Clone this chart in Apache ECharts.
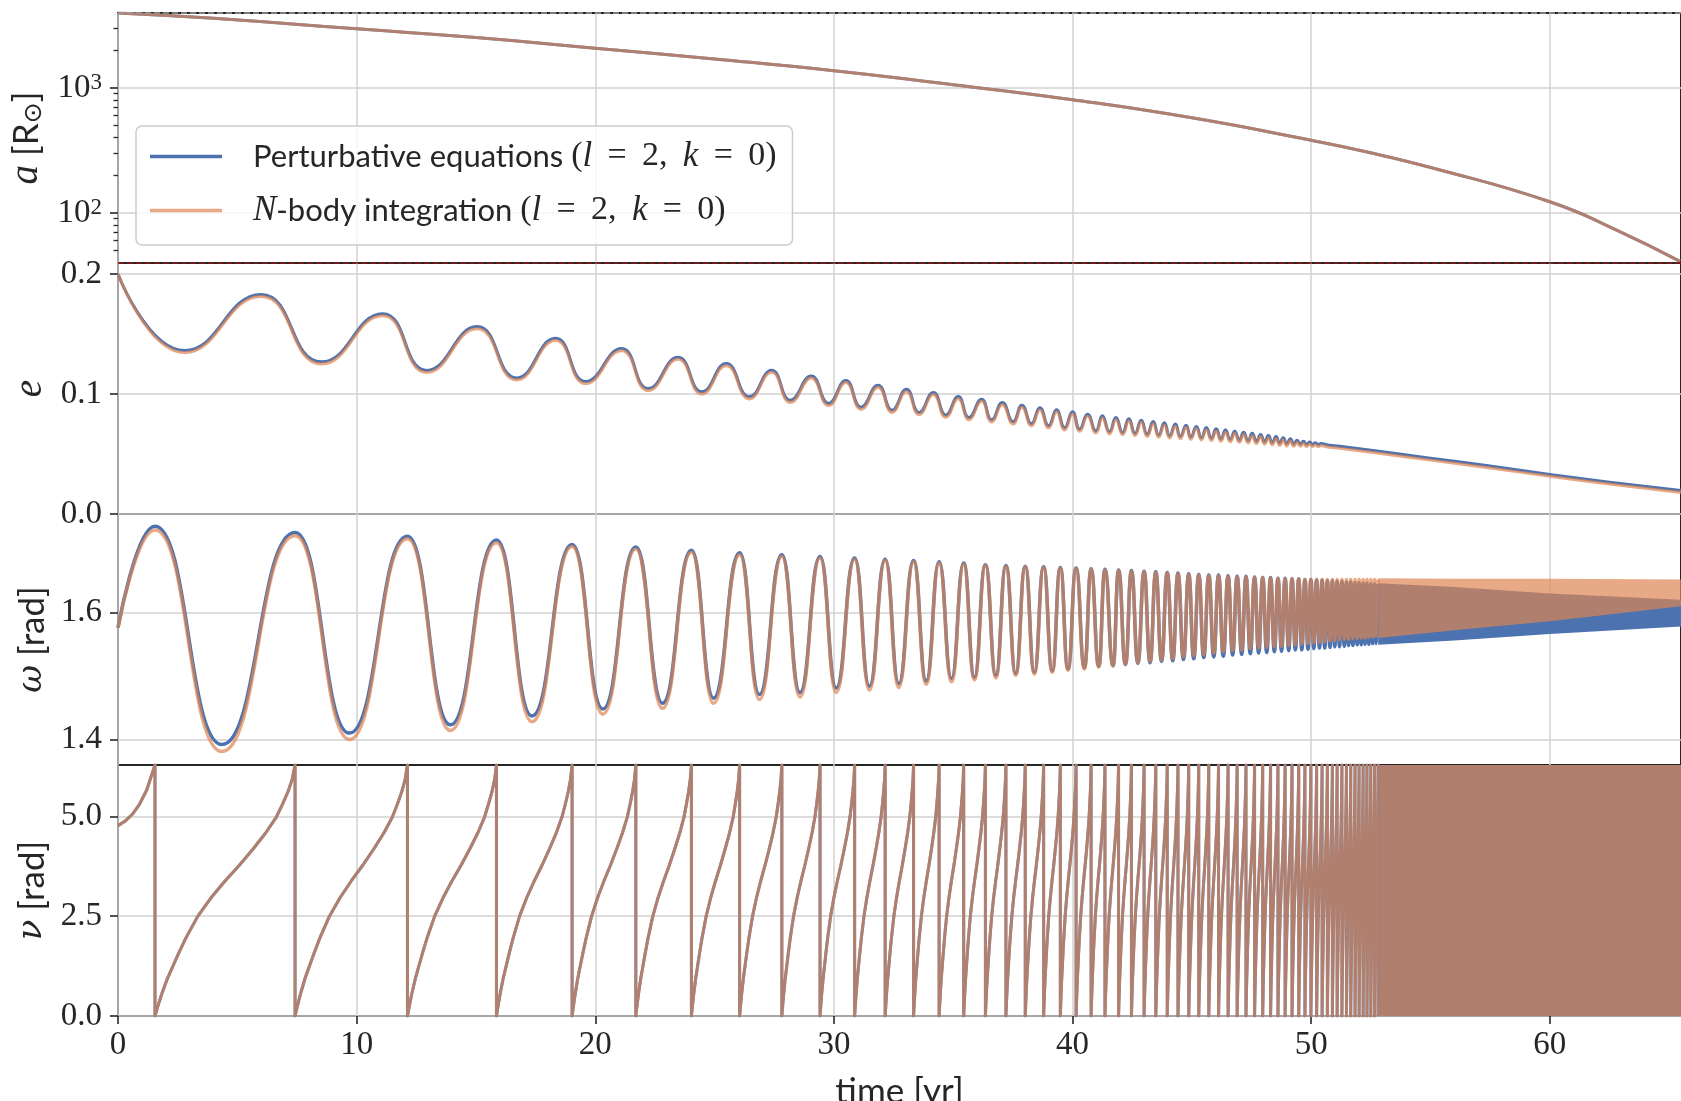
<!DOCTYPE html>
<html><head><meta charset="utf-8">
<script src="https://cdn.jsdelivr.net/npm/echarts@6/dist/echarts.min.js"></script>
<style>html,body{margin:0;padding:0;background:#fff}#c{width:1681px;height:1101px}</style>
</head><body><div id="c"></div>
<script>
// ---------------- DATA ----------------
const xTicks = [0, 10, 20, 30, 40, 50, 60];
// panel 1: semi-major axis a [Rsun] (log axis)
const aT   = [0, 4, 10, 15, 20, 25, 30, 35, 40, 45, 50, 52.3, 55.13, 60, 62.8, 65.46];
const aVal = [3990, 3614, 2972, 2535, 2080, 1706, 1374, 1062, 805, 577, 382, 309, 228, 123, 73, 41];
const aTicks = [100, 1000];
const aMinorTicks = [50, 60, 70, 80, 90, 200, 300, 400, 500, 600, 700, 800, 900, 2000, 3000];
// panel 2: eccentricity e (alternating extrema, then the smooth tail)
const eT = [0, 2.80, 6.00, 8.53, 11.09, 12.94, 15.05, 16.71, 18.33, 19.60, 21.10, 22.22, 23.47, 24.47, 25.49, 26.46, 27.39, 28.18, 29.05, 29.78, 30.50, 31.14, 31.85, 32.44, 33.04, 33.57, 34.17, 34.69, 35.21, 35.66, 36.19, 36.61, 37.06, 37.51, 37.88, 38.28, 38.63, 39.00, 39.33, 39.67, 40.00, 40.30, 40.63, 40.98, 41.25, 41.55, 41.82, 42.10, 42.36, 42.62, 42.88, 43.13, 43.38, 43.61, 43.85, 44.07, 44.31, 44.52, 44.76, 44.96, 45.19, 45.40, 45.61, 45.82, 46.02, 46.22, 46.41, 46.61, 46.80, 46.99, 47.17, 47.36, 47.53, 47.71, 47.88, 48.05, 48.21, 48.37, 48.53, 48.68, 48.83, 48.98, 49.13,
  49.27, 49.41, 49.55, 49.68, 49.81, 49.94, 50.06, 50.18, 50.30, 50.41, 50.7, 51.2, 53.0, 55.0, 57.5, 60.0, 62.5, 65.5];
const eBlue = [0.2000, 0.1362, 0.1830, 0.1268, 0.1670, 0.1197, 0.1562, 0.1134, 0.1464, 0.1104, 0.1379, 0.1046, 0.1307, 0.1018, 0.1254, 0.0977, 0.1199, 0.0948, 0.1151, 0.0921, 0.1113, 0.0890, 0.1074, 0.0865, 0.1040, 0.0846, 0.1013, 0.0824, 0.0979, 0.0804, 0.0957, 0.0785, 0.0929, 0.0768, 0.0907, 0.0752, 0.0885, 0.0735, 0.0868, 0.0718, 0.0852, 0.0707, 0.0832, 0.0693, 0.0818, 0.0685, 0.0804, 0.0678, 0.0793, 0.0671, 0.0782, 0.0664, 0.0771, 0.0657, 0.0760, 0.0651, 0.0750, 0.0645, 0.0740, 0.0640, 0.0730, 0.0635, 0.0720, 0.0630, 0.0710, 0.0625, 0.0700, 0.0620, 0.0690, 0.0615, 0.0681, 0.0610, 0.0672, 0.0605, 0.0663, 0.0600, 0.0654, 0.0595, 0.0645, 0.0590, 0.0636, 0.0585, 0.0627,
  0.0582, 0.0615, 0.0581, 0.0607, 0.0580, 0.0600, 0.0579, 0.0594, 0.0578, 0.0587, 0.0576, 0.0564, 0.0518, 0.0465, 0.0400, 0.0330, 0.0265, 0.0195];
const eOrange = [0.2000, 0.1345, 0.1812, 0.1250, 0.1652, 0.1179, 0.1544, 0.1116, 0.1446, 0.1086, 0.1361, 0.1028, 0.1289, 0.1000, 0.1236, 0.0959, 0.1181, 0.0930, 0.1133, 0.0903, 0.1095, 0.0872, 0.1056, 0.0847, 0.1022, 0.0828, 0.0995, 0.0806, 0.0961, 0.0786, 0.0939, 0.0767, 0.0911, 0.0750, 0.0889, 0.0734, 0.0867, 0.0717, 0.0850, 0.0700, 0.0834, 0.0689, 0.0814, 0.0675, 0.0800, 0.0667, 0.0786, 0.0660, 0.0775, 0.0653, 0.0764, 0.0646, 0.0753, 0.0639, 0.0742, 0.0633, 0.0732, 0.0627, 0.0722, 0.0622, 0.0712, 0.0617, 0.0702, 0.0612, 0.0692, 0.0607, 0.0682, 0.0602, 0.0672, 0.0597, 0.0663, 0.0592, 0.0654, 0.0587, 0.0645, 0.0582, 0.0636, 0.0577, 0.0627, 0.0572, 0.0618, 0.0567, 0.0609,
  0.0565, 0.0598, 0.0564, 0.0590, 0.0563, 0.0583, 0.0562, 0.0577, 0.0561, 0.0570, 0.0559, 0.0547, 0.0502, 0.0449, 0.0383, 0.0315, 0.0250, 0.0180];
const eTicks = [0, 0.1, 0.2];
// cycle times: omega maxima == nu wrap-arounds
const cycleT = [1.55, 7.42, 12.13, 15.86, 19.03, 21.70, 24.03, 26.05, 27.82, 29.42, 30.87, 32.15, 33.34, 34.41, 35.44, 36.35, 37.21, 38.02, 38.79, 39.49, 40.15, 40.78, 41.36, 41.93, 42.47, 43.00, 43.49, 43.97, 44.42, 44.87, 45.29, 45.71, 46.12, 46.52, 46.90, 47.27, 47.63, 47.97, 48.30, 48.61, 48.91, 49.20, 49.48, 49.74, 49.99, 50.23, 50.46, 50.68, 50.89, 51.09, 51.29, 51.48, 51.66, 51.84, 52.01, 52.18, 52.34, 52.50, 52.66, 52.81];
// panel 3: omega [rad]
const omegaStartT = 0, omegaStartVal = 1.576;
const omegaPeakBlue = [1.736, 1.726, 1.720, 1.714, 1.707, 1.703, 1.698, 1.694, 1.691, 1.688, 1.686, 1.684, 1.682, 1.680, 1.678, 1.675, 1.674, 1.673, 1.672, 1.671, 1.670, 1.669, 1.668, 1.667, 1.666, 1.665, 1.664, 1.663, 1.662, 1.661, 1.660, 1.659, 1.659, 1.658, 1.657, 1.657, 1.656, 1.655, 1.655, 1.654, 1.654, 1.653, 1.653, 1.652, 1.652, 1.651, 1.651, 1.650, 1.650, 1.649, 1.649, 1.648, 1.648, 1.647, 1.647, 1.646, 1.646, 1.645, 1.645, 1.645];
const omegaPeakOrange = [1.730, 1.721, 1.716, 1.710, 1.704, 1.700, 1.695, 1.691, 1.688, 1.686, 1.684, 1.682, 1.680, 1.678, 1.676, 1.674, 1.673, 1.672, 1.671, 1.670, 1.669, 1.668, 1.667, 1.666, 1.665, 1.664, 1.663, 1.662, 1.661, 1.660, 1.659, 1.658, 1.658, 1.657, 1.656, 1.656, 1.655, 1.655, 1.654, 1.654, 1.653, 1.653, 1.653, 1.652, 1.652, 1.652, 1.652, 1.652, 1.652, 1.652, 1.652, 1.652, 1.652, 1.652, 1.652, 1.652, 1.652, 1.652, 1.652, 1.652];
const omegaTroughT = [4.35, 9.70, 13.93, 17.35, 20.32, 22.82, 24.96, 26.88, 28.58, 30.10, 31.49, 32.72, 33.87, 34.93, 35.89, 36.79, 37.62, 38.40, 39.15, 39.81, 40.50, 41.10, 41.70, 42.22, 42.74, 43.25, 43.73, 44.20, 44.65, 45.08, 45.50, 45.92, 46.32, 46.71, 47.09, 47.45, 47.80, 48.14, 48.46, 48.76, 49.06, 49.34, 49.61, 49.87, 50.11, 50.35, 50.57, 50.79, 50.99, 51.19, 51.39, 51.57, 51.75, 51.93, 52.10, 52.26, 52.42, 52.58, 52.74];
const omegaTroughBlue = [1.392, 1.410, 1.423, 1.437, 1.448, 1.457, 1.465, 1.471, 1.474, 1.481, 1.484, 1.488, 1.492, 1.496, 1.498, 1.501, 1.504, 1.506, 1.508, 1.511, 1.513, 1.515, 1.516, 1.518, 1.520, 1.521, 1.523, 1.524, 1.526, 1.527, 1.529, 1.530, 1.531, 1.533, 1.534, 1.535, 1.536, 1.537, 1.538, 1.539, 1.540, 1.541, 1.541, 1.542, 1.543, 1.544, 1.544, 1.545, 1.546, 1.546, 1.547, 1.548, 1.548, 1.549, 1.549, 1.550, 1.550, 1.551, 1.551];
const omegaTroughOrange = [1.381, 1.400, 1.414, 1.428, 1.440, 1.449, 1.457, 1.463, 1.467, 1.474, 1.478, 1.482, 1.487, 1.491, 1.494, 1.497, 1.501, 1.503, 1.506, 1.509, 1.511, 1.514, 1.516, 1.518, 1.521, 1.523, 1.525, 1.527, 1.530, 1.532, 1.534, 1.536, 1.538, 1.540, 1.541, 1.543, 1.544, 1.545, 1.546, 1.547, 1.548, 1.549, 1.550, 1.551, 1.552, 1.553, 1.554, 1.555, 1.556, 1.557, 1.558, 1.558, 1.559, 1.559, 1.560, 1.560, 1.561, 1.561, 1.562];
// unresolved (solid) envelope of omega at late times
const omegaBandT = [52.81, 56, 60, 65.5];
const omegaBandBlueTop = [1.646, 1.640, 1.630, 1.620];
const omegaBandBlueBot = [1.549, 1.556, 1.566, 1.578];
const omegaBandOrangeTop = [1.654, 1.653, 1.653, 1.652];
const omegaBandOrangeBot = [1.560, 1.572, 1.586, 1.610];
const omegaTicks = [1.4, 1.6];
// panel 4: nu [rad]
const nuHeadT = [0, 0.3, 0.6, 0.9, 1.2, 1.55];
const nuHeadVal = [4.76, 4.88, 5.05, 5.30, 5.65, 6.2832];
const nuProfileFrac = [0, 0.02, 0.05, 0.09, 0.128, 0.17, 0.22, 0.306, 0.40, 0.50, 0.604, 0.70, 0.79, 0.866, 0.91, 0.95, 0.98, 1];
const nuProfileVal  = [0, 0.24, 0.57, 0.95, 1.25, 1.58, 1.95, 2.5, 2.96, 3.38, 3.78, 4.18, 4.58, 4.98, 5.30, 5.62, 5.93, 6.2832];
const nuBandT = [52.81, 65.5];
const nuBandTop = [6.2832, 6.2832];
const nuBandBot = [0, 0];
const nuTicks = [0, 2.5, 5.0];

// ---------------- CHART ----------------
const BLUE = '#4C72B0', ORANGE = '#DD8452', INK = '#262626', GRIDC = '#d2d2d2';
const SERIF = "'Liberation Serif', 'DejaVu Serif', serif";
const GREEK = "'DejaVu Serif', serif";
const SANS = "Lato, 'DejaVu Sans', sans-serif";
const FS = 33;
const NAME_B = 'pert', NAME_O = 'nbody';
const PANEL_TOP = [13, 263, 514, 765];
const PANEL_H = [250, 251, 251, 251];
const LEFT = 118, WIDTH = 1563, XMAX = 65.5;

const grids = PANEL_TOP.map((t, i) => ({
  left: LEFT, top: t, width: WIDTH, height: PANEL_H[i], containLabel: false, outerBoundsMode: 'none',
  show: true, borderColor: INK, borderWidth: 2, backgroundColor: 'transparent'
}));

const xAxes = PANEL_TOP.map((t, i) => ({
  type: 'value', gridIndex: i, min: 0, max: XMAX, interval: 10,
  axisLine: { show: false },
  axisTick: { show: i === 3, length: 8, lineStyle: { color: INK, width: 1.6 }, customValues: xTicks },
  axisLabel: { show: i === 3, customValues: xTicks, fontFamily: SERIF, fontSize: FS, color: INK, margin: 13,
    formatter: v => (Math.abs(v % 10) < 1e-9 ? String(v) : '') },
  splitLine: { show: true, lineStyle: { color: GRIDC, width: 1.5 } },
  name: i === 3 ? 'time [yr]' : '', nameLocation: 'middle', nameGap: 58,
  nameTextStyle: { fontFamily: SANS, fontSize: 35, color: INK }
}));

const nameRich = {
  i: { fontFamily: SERIF, fontStyle: 'italic', fontSize: 39, color: INK },
  g: { fontFamily: GREEK, fontStyle: 'italic', fontSize: 34, color: INK },
  n: { fontFamily: SANS, fontSize: 35, color: INK },
  o: { fontFamily: "'DejaVu Sans'", fontSize: 25, color: INK, verticalAlign: 'bottom' }
};
function yBase(grid, extra) {
  return Object.assign({
    gridIndex: grid, position: 'left',
    axisLine: { show: false },
    axisTick: { show: true, length: 8, lineStyle: { color: INK, width: 1.6 } },
    axisLabel: { fontFamily: SERIF, fontSize: FS, color: INK, margin: 16 },
    splitLine: { show: true, lineStyle: { color: GRIDC, width: 1.5 } },
    nameLocation: 'middle', nameRotate: 90, nameGap: 66,
    nameTextStyle: { fontFamily: SANS, fontSize: 35, color: INK, rich: nameRich }
  }, extra);
}
const tick = vals => ({ show: true, length: 8, lineStyle: { color: INK, width: 1.6 }, customValues: vals });
const yAxes = [
  yBase(0, { type: 'log', logBase: 10, min: 39.81, max: 3981, name: '{i|a} {n|[R}{o|⊙}{n|]}',
    axisTick: tick(aTicks),
    axisLabel: { fontFamily: SERIF, fontSize: FS, color: INK, margin: 16, customValues: aTicks,
      formatter: v => { const l = Math.log10(v); return Math.abs(l - Math.round(l)) < 1e-6 ? '{b|10}{s|' + Math.round(l) + '}' : ''; },
      rich: { b: { fontFamily: SERIF, fontSize: FS, color: INK }, s: { fontFamily: SERIF, fontSize: 23, color: INK, verticalAlign: 'top' } } } }),
  yBase(1, { type: 'value', min: 0, max: 0.2092, interval: 0.1, name: '{i|e}',
    axisTick: tick(eTicks),
    axisLabel: { fontFamily: SERIF, fontSize: FS, color: INK, margin: 16, customValues: eTicks, formatter: v => v.toFixed(1) } }),
  yBase(2, { type: 'value', min: 1.3598, max: 1.7551, minInterval: 0.2, maxInterval: 0.2, name: '{g|ω} {n|[rad]}',
    axisTick: tick(omegaTicks),
    axisLabel: { fontFamily: SERIF, fontSize: FS, color: INK, margin: 16, customValues: omegaTicks, formatter: v => v.toFixed(1) } }),
  yBase(3, { type: 'value', min: 0, max: 6.2832, interval: 2.5, name: '{g|ν} {n|[rad]}',
    axisTick: tick(nuTicks),
    axisLabel: { fontFamily: SERIF, fontSize: FS, color: INK, margin: 16, customValues: nuTicks, formatter: v => v.toFixed(1) } }),
  // minor ticks of the log axis
  yBase(0, { type: 'log', logBase: 10, min: 39.81, max: 3981, name: '',
    axisTick: { show: true, length: 4.5, lineStyle: { color: INK, width: 1.3 }, customValues: aMinorTicks },
    axisLabel: { show: false }, splitLine: { show: false } })
];

const zip = (T, V) => T.map((t, i) => [t, V[i]]);
function omegaPts(peaks, troughs) {
  const pts = [[omegaStartT, omegaStartVal]];
  for (let k = 0; k < cycleT.length; k++) {
    pts.push([cycleT[k], peaks[k]]);
    if (k < omegaTroughT.length) pts.push([omegaTroughT[k], troughs[k]]);
  }
  return pts;
}
function nuPts() {
  const pts = zip(nuHeadT, nuHeadVal);
  for (let k = 0; k < cycleT.length; k++) {
    const t0 = cycleT[k];
    pts.push([t0, 0]);
    if (k + 1 < cycleT.length) {
      const t1 = cycleT[k + 1];
      for (let j = 1; j < nuProfileFrac.length; j++) pts.push([t0 + (t1 - t0) * nuProfileFrac[j], nuProfileVal[j]]);
    }
  }
  return pts;
}
function line(name, grid, data, color, opacity, width, smooth, mono) {
  const s = { type: 'line', name, xAxisIndex: grid, yAxisIndex: grid, data, showSymbol: false, symbol: 'none',
    smooth: smooth, clip: true, silent: true,
    lineStyle: { color, width, opacity, join: 'round' }, itemStyle: { color, opacity } };
  if (mono) s.smoothMonotone = 'x';
  return s;
}
function band(name, grid, T, top, bot, color, opacity) {
  return { type: 'custom', name, xAxisIndex: grid, yAxisIndex: grid, clip: true, silent: true, data: [[T[0], top[0]]],
    renderItem: (p, api) => {
      const pts = [];
      for (let i = 0; i < T.length; i++) pts.push(api.coord([T[i], top[i]]));
      for (let i = T.length - 1; i >= 0; i--) pts.push(api.coord([T[i], bot[i]]));
      return { type: 'polygon', shape: { points: pts }, style: { fill: color, opacity } };
    } };
}

const aBlue = line(NAME_B, 0, zip(aT, aVal), BLUE, 1, 3, 0.5, false);
aBlue.markLine = { silent: true, symbol: 'none', label: { show: false },
  data: [ { yAxis: 3981, lineStyle: { type: 'dashed', color: '#9a9a9a', width: 1.5 } },
          { yAxis: 39.81, lineStyle: { type: 'dashed', color: '#8b1a1a', width: 1.5 } } ] };

const series = [
  aBlue,
  line(NAME_B, 1, zip(eT, eBlue), BLUE, 1, 3, 0.5, false),
  line(NAME_B, 2, omegaPts(omegaPeakBlue, omegaTroughBlue), BLUE, 1, 3.5, 0.5, true),
  band('bandB2', 2, omegaBandT, omegaBandBlueTop, omegaBandBlueBot, BLUE, 1),
  line(NAME_B, 3, nuPts(), BLUE, 1, 3, false, false),
  band('bandB3', 3, nuBandT, nuBandTop, nuBandBot, BLUE, 1),
  line(NAME_O, 0, zip(aT, aVal), ORANGE, 0.7, 3, 0.5, false),
  line(NAME_O, 1, zip(eT, eOrange), ORANGE, 0.7, 3, 0.5, false),
  line(NAME_O, 2, omegaPts(omegaPeakOrange, omegaTroughOrange), ORANGE, 0.7, 3.5, 0.5, true),
  band('bandO2', 2, omegaBandT, omegaBandOrangeTop, omegaBandOrangeBot, ORANGE, 0.7),
  line(NAME_O, 3, nuPts(), ORANGE, 0.7, 3, false, false),
  band('bandO3', 3, nuBandT, nuBandTop, nuBandBot, ORANGE, 0.7)
];

const LH = 36;
const legendRich = {
  g: { width: 26, lineHeight: LH },
  s: { fontFamily: SANS, fontSize: 31, color: INK, lineHeight: LH },
  m: { fontFamily: SERIF, fontSize: 34, color: INK, lineHeight: LH },
  i: { fontFamily: SERIF, fontStyle: 'italic', fontSize: 35, color: INK, lineHeight: LH }
};
const legendText = {
  pert: '{g| }{s|Perturbative equations }{m|(}{i|l}{m| \u2009= \u20092, \u2009}{i|k}{m| \u2009= \u20090)}',
  nbody: '{g| }{i|N}{s|-body integration }{m|(}{i|l}{m| \u2009= \u20092, \u2009}{i|k}{m| \u2009= \u20090)}'
};

const chart = echarts.init(document.getElementById('c'), null, { renderer: 'canvas' });
chart.setOption({
  animation: false,
  backgroundColor: '#ffffff',
  grid: grids, xAxis: xAxes, yAxis: yAxes, series,
  legend: {
    data: [NAME_B, NAME_O], orient: 'vertical', left: 136, top: 126,
    padding: [13, 16, 17, 14], itemWidth: 72, itemHeight: 3.5, itemGap: 19, icon: 'rect',
    backgroundColor: 'rgba(255,255,255,0.8)', borderColor: '#cccccc', borderWidth: 1.5, borderRadius: 6,
    selectedMode: false,
    textStyle: { color: INK, rich: legendRich },
    formatter: n => legendText[n]
  }
});
</script></body></html>
